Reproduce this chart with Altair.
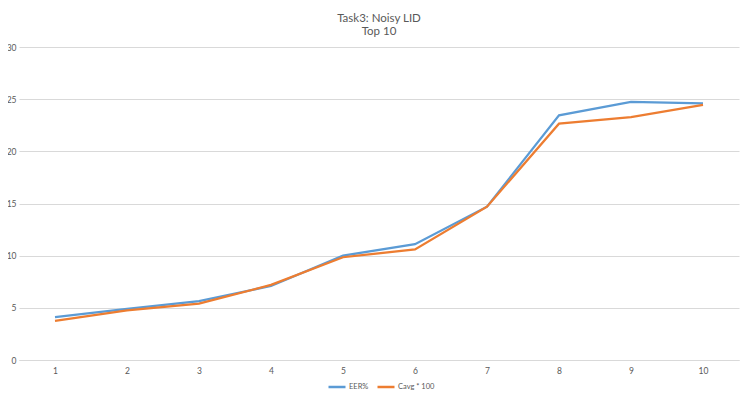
import altair as alt
import pandas as pd

ranks = ["1", "2", "3", "4", "5", "6", "7", "8", "9", "10"]
eer = [4.1, 4.9, 5.65, 7.1, 10.0, 11.1, 14.7, 23.45, 24.75, 24.6]
cavg = [3.75, 4.75, 5.4, 7.2, 9.85, 10.6, 14.7, 22.65, 23.27, 24.45]
series_names = ["EER%", "Cavg * 100"]
series_colors = ["#5B9BD5", "#ED7D31"]

rows = []
for name, vals in zip(series_names, [eer, cavg]):
    for r, v in zip(ranks, vals):
        rows.append({"rank": r, "value": v, "series": name})
df = pd.DataFrame(rows)

FONT = "Lato"
TXT = "#595959"

chart = alt.Chart(df).mark_line(strokeWidth=2.25).encode(
    x=alt.X("rank:O", sort=ranks, title=None,
            scale=alt.Scale(padding=0.5),
            axis=alt.Axis(labelAngle=0, ticks=False, domainColor="#d9d9d9",
                          labelFontSize=8.5, labelColor=TXT, labelPadding=6,
                          grid=False, labelFont=FONT)),
    y=alt.Y("value:Q", title=None,
            scale=alt.Scale(domain=[0, 30]),
            axis=alt.Axis(values=[0, 5, 10, 15, 20, 25, 30], ticks=False, domain=False,
                          gridColor="#d9d9d9", labelFontSize=8.5, labelColor=TXT,
                          labelPadding=3, labelFont=FONT)),
    color=alt.Color("series:N", sort=series_names,
                    scale=alt.Scale(domain=series_names, range=series_colors),
                    legend=alt.Legend(title=None, orient="none", direction="horizontal",
                                      legendX=308, legendY=330,
                                      symbolType="stroke", symbolSize=289,
                                      symbolStrokeWidth=2.5, labelFontSize=7.5,
                                      labelColor=TXT, labelFont=FONT, labelOffset=2,
                                      columnPadding=3, symbolOffset=0, padding=0)),
).properties(
    width=720,
    height=313,
    title=alt.TitleParams(["Task3: Noisy LID", "Top 10"], fontSize=11.5,
                          font=FONT, fontWeight="normal", color=TXT,
                          anchor="middle", offset=6, lineHeight=13),
    autosize=alt.AutoSizeParams(type="none"),
    padding={"left": 11, "top": 39, "right": 3, "bottom": 36},
).configure_view(stroke=None)

chart.save("out.html", embed_options={"renderer": "svg", "actions": False})
